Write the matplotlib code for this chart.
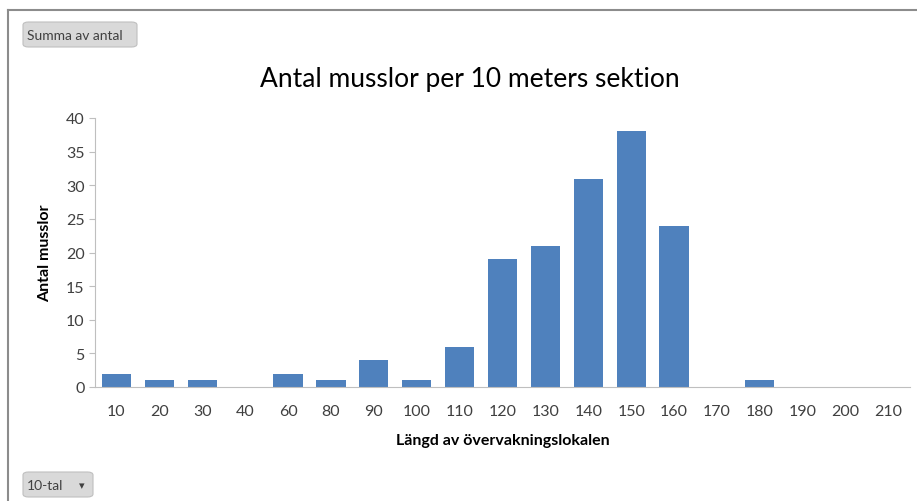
import matplotlib.pyplot as plt
import numpy as np
from matplotlib.patches import FancyBboxPatch

plt.rcParams['font.family'] = ['Lato', 'DejaVu Sans']

lengths = ["10", "20", "30", "40", "60", "80", "90", "100", "110", "120",
           "130", "140", "150", "160", "170", "180", "190", "200", "210"]
counts = [2, 1, 1, 0, 2, 1, 4, 1, 6, 19, 21, 31, 38, 24, 0, 1, 0, 0, 0]

fig = plt.figure(figsize=(9.17, 5.02), dpi=100)
W, H = 917, 502

# outer chart frame (top and left edges visible)
fig.add_artist(plt.Line2D([8 / W, 1], [1 - 11 / H, 1 - 11 / H], color="#8c8c8c", lw=1.5))
fig.add_artist(plt.Line2D([8 / W, 8 / W], [0, 1 - 11 / H], color="#8c8c8c", lw=1.5))

ax = fig.add_axes([95 / W, 1 - 388 / H, (910 - 95) / W, (388 - 119) / H])
x = np.arange(len(lengths))
ax.bar(x, counts, width=0.68, color="#4f81bd")
ax.set_xlim(-0.5, len(lengths) - 0.5)
ax.set_ylim(0, 40)
ax.set_yticks(range(0, 41, 5))
ax.set_xticks(x)
ax.set_xticklabels(lengths)

for s in ["top", "right"]:
    ax.spines[s].set_visible(False)
ax.spines["left"].set_color("#bfbfbf")
ax.spines["bottom"].set_color("#bfbfbf")
ax.tick_params(axis="y", colors="#bfbfbf", labelcolor="#404040", labelsize=11.5, length=4)
ax.tick_params(axis="x", length=0, labelcolor="#404040", labelsize=11.5, pad=12)

ax.set_xlabel("Längd av övervakningslokalen", fontsize=11.5, fontweight="bold", labelpad=11)
ax.set_ylabel("Antal musslor", fontsize=11.5, fontweight="bold", labelpad=10)

fig.text(470 / W, 1 - 80 / H, "Antal musslor per 10 meters sektion",
         ha="center", va="center", fontsize=19, color="#000000")

# field buttons
btn1 = FancyBboxPatch((23 / W, 1 - 48 / H), (137 - 23) / W, 25 / H,
                      boxstyle="round,pad=0,rounding_size=0.006",
                      transform=fig.transFigure, facecolor="#d9d9d9",
                      edgecolor="#bfbfbf", lw=0.8)
fig.add_artist(btn1)
fig.text(27 / W, 1 - 36 / H, "Summa av antal", ha="left", va="center",
         fontsize=10, color="#404040")

btn2 = FancyBboxPatch((23 / W, 1 - 498 / H), (93 - 23) / W, 25 / H,
                      boxstyle="round,pad=0,rounding_size=0.006",
                      transform=fig.transFigure, facecolor="#d9d9d9",
                      edgecolor="#bfbfbf", lw=0.8)
fig.add_artist(btn2)
fig.text(27 / W, 1 - 486 / H, "10-tal", ha="left", va="center",
         fontsize=10, color="#404040")
fig.text(82 / W, 1 - 486 / H, "▾", ha="center", va="center",
         fontsize=8, color="#404040", family=["DejaVu Sans"])

fig.savefig("out.png", dpi=100)
